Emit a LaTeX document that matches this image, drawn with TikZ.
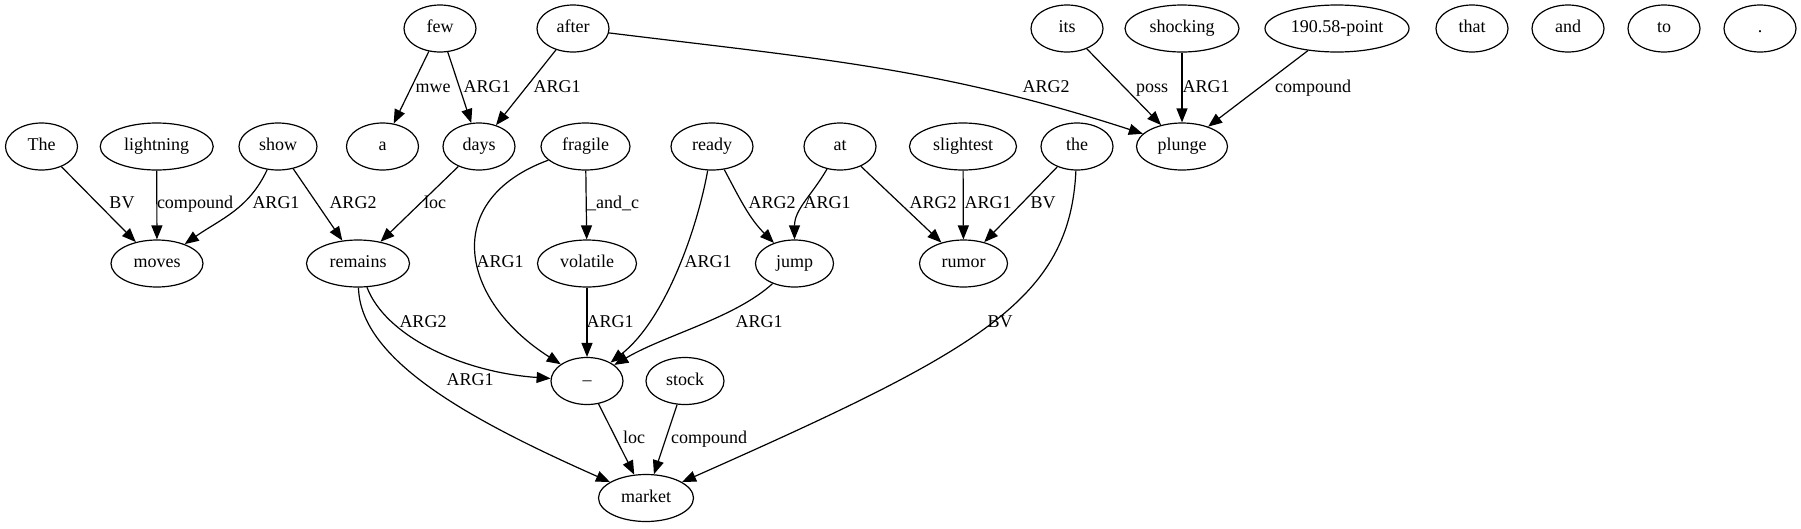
\documentclass[tikz,border=0pt]{standalone}
\usepackage{fontspec}
\setmainfont{Liberation Serif}
\usetikzlibrary{arrows.meta,shapes.geometric}
\begin{document}
\begin{tikzpicture}[x=1pt,y=-1pt,
  word/.style={draw,ellipse,line width=1.2pt,inner sep=0pt,minimum height=47pt,minimum width=72pt,text height=12.5pt,text depth=4pt,font=\fontsize{18}{20}\selectfont},
  lbl/.style={inner sep=0pt,text height=12.5pt,text depth=4pt,font=\fontsize{18}{20}\selectfont},
  conn/.style={line width=1.2pt,-{Triangle[length=14pt,width=11pt]}}]
\useasboundingbox[fill=white] (0,0) rectangle (1801,528);
% row 1
\node[word] (nfew) at (440,28.5) {few};
\node[word] (nafter) at (573,28.5) {after};
\node[word] (nits) at (1067,28.5) {its};
\node[word,minimum width=114pt] (nshocking) at (1182,28.5) {shocking};
\node[word,minimum width=144pt] (npoint) at (1337,28.5) {190.58-point};
\node[word] (nthat) at (1472,28.5) {that};
\node[word] (nand) at (1568,28.5) {and};
\node[word] (nto) at (1664,28.5) {to};
\node[word] (ndot) at (1760,28.5) {.};
% row 2
\node[word] (nThe) at (41.5,146.5) {The};
\node[word,minimum width=113pt] (nlightning) at (156.7,146.5) {lightning};
\node[word,minimum width=78pt] (nshow) at (278,146.5) {show};
\node[word] (na) at (382.5,146.5) {a};
\node[word] (ndays) at (479,146.5) {days};
\node[word,minimum width=89pt] (nfragile) at (585.5,146.5) {fragile};
\node[word,minimum width=82pt] (nready) at (712,146.5) {ready};
\node[word] (nat) at (840,146.5) {at};
\node[word,minimum width=107pt] (nslightest) at (963,146.5) {slightest};
\node[word] (nthe) at (1077,146.5) {the};
\node[word,minimum width=91pt] (nplunge) at (1182,146.5) {plunge};
% row 3
\node[word,minimum width=92pt] (nmoves) at (157,263.5) {moves};
\node[word,minimum width=103pt] (nremains) at (358,263.5) {remains};
\node[word,minimum width=99pt] (nvolatile) at (587,263.5) {volatile};
\node[word,minimum width=78pt] (njump) at (794.5,263.5) {jump};
\node[word,minimum width=88pt] (nrumor) at (963.5,263.5) {rumor};
% row 4
\node[word] (ndash) at (587,381) {–};
\node[word,minimum width=78pt] (nstock) at (685,381) {stock};
% row 5
\node[word,minimum width=95pt] (nmarket) at (646,498) {market};
% edges
\draw[conn] (nThe) -- (nmoves);
\draw[conn] (nlightning) -- (nmoves);
\draw[conn] (nshow) to[out=-115,in=35] (nmoves);
\draw[conn] (nshow) -- (nremains);
\draw[conn] (ndays) -- (nremains);
\draw[conn] (nfew) -- (na);
\draw[conn] (nfew) -- (ndays);
\draw[conn] (nafter) -- (ndays);
\draw[conn] (nafter) to[out=-7,in=162] (nplunge);
\draw[conn] (nfragile) -- (nvolatile);
\draw[conn] (nfragile) .. controls (440,200) and (460,300) .. (ndash);
\draw[conn] (nready) .. controls (697,230) and (665,320) .. (ndash);
\draw[conn] (nready) to[out=-62,in=135] (njump);
\draw[conn] (nat) to[out=-120,in=90] (njump);
\draw[conn] (nat) -- (nrumor);
\draw[conn] (nslightest) -- (nrumor);
\draw[conn] (nthe) -- (nrumor);
\draw[conn] (nthe) .. controls (1070,300) and (980,350) .. (nmarket);
\draw[conn] (nits) -- (nplunge);
\draw[conn] (nshocking) -- (nplunge);
\draw[conn] (npoint) -- (nplunge);
\draw[conn] (nvolatile) -- (ndash);
\draw[conn] (njump) .. controls (735,318) and (665,335) .. (ndash);
\draw[conn] (nremains) .. controls (385,335) and (460,372) .. (ndash);
\draw[conn] (nremains) .. controls (360,360) and (470,420) .. (nmarket);
\draw[conn] (ndash) -- (nmarket);
\draw[conn] (nstock) -- (nmarket);
% labels
\node[lbl] (l1) at (122,204) {BV};
\node[lbl] (l2) at (195,204) {compound};
\node[lbl] (l3) at (276,204) {ARG1};
\node[lbl] (l4) at (353,204) {ARG2};
\node[lbl] (l5) at (435,204) {loc};
\node[lbl] (l6) at (433,88) {mwe};
\node[lbl] (l7) at (487,88) {ARG1};
\node[lbl] (l8) at (557,88) {ARG1};
\node[lbl] (l9) at (1046,88) {ARG2};
\node[lbl] (l10) at (1152,88) {poss};
\node[lbl] (l11) at (1206,88) {ARG1};
\node[lbl] (l12) at (1313,88) {compound};
\node[lbl] (l13) at (613,204) {\_and\_c};
\node[lbl] (l14) at (772,204) {ARG2};
\node[lbl] (l15) at (827,204) {ARG1};
\node[lbl] (l16) at (933,204) {ARG2};
\node[lbl] (l17) at (988,204) {ARG1};
\node[lbl] (l18) at (1043,204) {BV};
\node[lbl] (l19) at (500,263) {ARG1};
\node[lbl] (l20) at (708,263) {ARG1};
\node[lbl] (l21) at (423,323) {ARG2};
\node[lbl] (l22) at (610,323) {ARG1};
\node[lbl] (l23) at (759,323) {ARG1};
\node[lbl] (l24) at (1000,323) {BV};
\node[lbl] (l25) at (470,381) {ARG1};
\node[lbl] (l26) at (634,439) {loc};
\node[lbl] (l27) at (709,439) {compound};
\end{tikzpicture}
\end{document}
